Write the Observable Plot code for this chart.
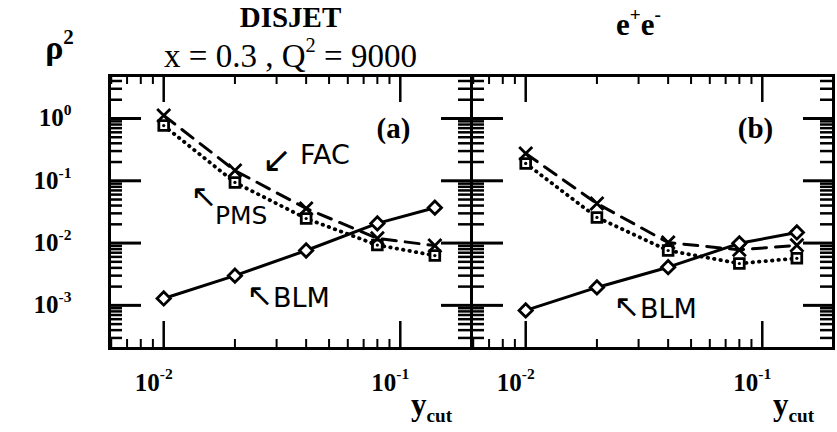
<!DOCTYPE html>
<html><head><meta charset="utf-8">
<script src="https://cdn.jsdelivr.net/npm/d3@7"></script>
<script src="https://cdn.jsdelivr.net/npm/@observablehq/plot@0.6"></script>
<style>html,body{margin:0;padding:0;background:#fff}</style>
</head><body><div id="chart"></div>
<script>
// ---- data ----
const panels = ["a", "b"];
const yCut = [0.01, 0.02, 0.04, 0.08, 0.14];
const facA = [1.12, 0.146, 0.036, 0.0119, 0.0091];
const pmsA = [0.77, 0.094, 0.0248, 0.0093, 0.0063];
const blmA = [0.00129, 0.0030, 0.0076, 0.0207, 0.037];
const facB = [0.274, 0.0432, 0.0102, 0.0078, 0.0092];
const pmsB = [0.19, 0.0258, 0.0076, 0.0047, 0.0057];
const blmB = [0.00083, 0.00194, 0.0041, 0.0099, 0.0148];

const xMajor = [0.01, 0.1];
const xTickLabels = ["10^{-2}", "10^{-1}"];
const xMinor = [0.006, 0.007, 0.008, 0.009, 0.02, 0.03, 0.04, 0.05, 0.06, 0.07, 0.08, 0.09];
const yMajor = [1, 0.1, 0.01, 0.001];
const yTickLabels = ["10^{0}", "10^{-1}", "10^{-2}", "10^{-3}"];
const yMinor = [3e-4,4e-4,5e-4,6e-4,7e-4,8e-4,9e-4,
                2e-3,3e-3,4e-3,5e-3,6e-3,7e-3,8e-3,9e-3,
                0.02,0.03,0.04,0.05,0.06,0.07,0.08,0.09,
                0.2,0.3,0.4,0.5,0.6,0.7,0.8,0.9,
                2,3,4];
const titles = [
  {panel: "a", text: "DISJET"},
  {panel: "a", text: "x = 0.3 , Q^{2} = 9000"},
  {panel: "b", text: "e^{+}e^{-}"}
];
const panelLabels = [{panel: "a", text: "(a)"}, {panel: "b", text: "(b)"}];
const yLabel = "ρ^{2}";
const xLabel = "y_{cut}";

// ---- table ----
const rows = [];
const seriesByPanel = {a: {FAC: facA, PMS: pmsA, BLM: blmA}, b: {FAC: facB, PMS: pmsB, BLM: blmB}};
for (const panel of panels)
  for (const [series, vals] of Object.entries(seriesByPanel[panel]))
    vals.forEach((v, i) => rows.push({panel, series, ycut: yCut[i], rho2: v, i}));
const pick = s => rows.filter(d => d.series === s);
const at = (panel, s, i) => rows.filter(d => d.panel === panel && d.series === s && d.i === i);

// ---- layout ----
const W = 837, H = 432, mL = 109, mR = 4, mT = 75, mB = 84;
const fw = (W - mL - mR) / 2, fh = H - mT - mB;
const serif = '"Liberation Serif","Times New Roman",serif';
const hand = '"DejaVu Sans",sans-serif';
const lw = 3;
const mid = {lineAnchor: "middle", textAnchor: "middle"};

const chart = Plot.plot({
  width: W, height: H,
  marginLeft: mL, marginRight: mR, marginTop: mT, marginBottom: mB,
  style: {fontFamily: serif, background: "white", color: "black", overflow: "visible"},
  fx: {domain: panels, padding: 0, axis: null},
  x: {type: "log", domain: [0.0059, 0.2], axis: null},
  y: {type: "log", domain: [2.03e-4, 4.9], axis: null},
  marks: [
    // inward ticks on all four sides of each panel
    Plot.tickX(xMinor, {x: d => d, insetBottom: fh - 9, strokeWidth: 2}),
    Plot.tickX(xMinor, {x: d => d, insetTop: fh - 9, strokeWidth: 2}),
    Plot.tickX(xMajor, {x: d => d, insetBottom: fh - 27, strokeWidth: 2.5}),
    Plot.tickX(xMajor, {x: d => d, insetTop: fh - 27, strokeWidth: 2.5}),
    Plot.tickY(yMinor, {y: d => d, insetRight: fw - 13, strokeWidth: 2.5}),
    Plot.tickY(yMinor, {y: d => d, insetLeft: fw - 13, strokeWidth: 2.5}),
    Plot.tickY(yMajor, {y: d => d, insetRight: fw - 32, strokeWidth: 3}),
    Plot.tickY(yMajor, {y: d => d, insetLeft: fw - 30, strokeWidth: 3}),
    Plot.frame({strokeWidth: 3}),

    // curves
    Plot.line(pick("BLM"), {fx: "panel", x: "ycut", y: "rho2", strokeWidth: lw}),
    Plot.line(pick("FAC"), {fx: "panel", x: "ycut", y: "rho2", strokeWidth: lw, strokeDasharray: "14,9"}),
    Plot.line(pick("PMS"), {fx: "panel", x: "ycut", y: "rho2", strokeWidth: lw + 0.8, strokeDasharray: "0.5,6", strokeLinecap: "round"}),

    // markers
    Plot.dot(pick("PMS"), {fx: "panel", x: "ycut", y: "rho2", symbol: "square", r: 5.5, fill: "white", stroke: "black", strokeWidth: 2.8}),
    Plot.dot(pick("PMS"), {fx: "panel", x: "ycut", y: "rho2", r: 1.6, fill: "black"}),
    Plot.dot(pick("FAC"), {fx: "panel", x: "ycut", y: "rho2", symbol: "times", r: 6, stroke: "black", strokeWidth: 2.8}),
    Plot.dot(pick("BLM"), {fx: "panel", x: "ycut", y: "rho2", symbol: "diamond2", r: 6, fill: "white", stroke: "black", strokeWidth: 2.8}),

    // tick labels
    Plot.text(yMajor.map((v, i) => ({panel: "a", v, t: yTickLabels[i]})), {fx: "panel", y: "v", text: "t", frameAnchor: "left", dx: -38, textAnchor: "end", lineAnchor: "middle", fontSize: 25, fontWeight: "bold"}),
    Plot.text(xMajor.map((v, i) => ({v, t: xTickLabels[i]})), {x: "v", text: "t", frameAnchor: "bottom", dy: 34, dx: 9, textAnchor: "end", lineAnchor: "middle", fontSize: 25, fontWeight: "bold"}),

    // axis titles
    Plot.text([{panel: "a", t: yLabel}], {fx: "panel", text: "t", frameAnchor: "top-left", dx: -50, dy: -27, ...mid, fontSize: 34, fontWeight: "bold"}),
    Plot.text([xLabel], {text: d => d, frameAnchor: "bottom-right", dx: -40, dy: 57, ...mid, fontSize: 31, fontWeight: "bold"}),

    // panel titles
    Plot.text(titles.slice(0, 1), {fx: "panel", text: "text", frameAnchor: "top", dy: -58, ...mid, fontSize: 29, fontWeight: "bold"}),
    Plot.text(titles.slice(1, 2), {fx: "panel", text: "text", frameAnchor: "top", dy: -19, ...mid, fontSize: 33}),
    Plot.text(titles.slice(2, 3), {fx: "panel", text: "text", frameAnchor: "top", dx: -14, dy: -50, ...mid, fontSize: 31, fontWeight: "bold"}),
    Plot.text(panelLabels, {fx: "panel", text: "text", frameAnchor: "top-right", dx: -78, dy: 53, ...mid, fontSize: 29, fontWeight: "bold"}),

    // hand-written annotations
    Plot.text(at("a", "FAC", 1), {fx: "panel", x: "ycut", y: "rho2", text: () => "↙", dx: 42, dy: -10, ...mid, fontFamily: hand, fontSize: 36}),
    Plot.text(at("a", "FAC", 1), {fx: "panel", x: "ycut", y: "rho2", text: () => "FAC", dx: 65, dy: -15, textAnchor: "start", lineAnchor: "middle", fontFamily: hand, fontSize: 27}),
    Plot.text(at("a", "PMS", 1), {fx: "panel", x: "ycut", y: "rho2", text: () => "↖", dx: -31, dy: 14, ...mid, fontFamily: hand, fontSize: 32}),
    Plot.text(at("a", "PMS", 1), {fx: "panel", x: "ycut", y: "rho2", text: () => "PMS", dx: -20, dy: 34, textAnchor: "start", lineAnchor: "middle", fontFamily: hand, fontSize: 25}),
    Plot.text(at("a", "BLM", 1), {fx: "panel", x: "ycut", y: "rho2", text: () => "↖", dx: 25, dy: 20, ...mid, fontFamily: hand, fontSize: 32}),
    Plot.text(at("a", "BLM", 1), {fx: "panel", x: "ycut", y: "rho2", text: () => "BLM", dx: 38, dy: 23, textAnchor: "start", lineAnchor: "middle", fontFamily: hand, fontSize: 27}),
    Plot.text(at("b", "BLM", 1), {fx: "panel", x: "ycut", y: "rho2", text: () => "↖", dx: 30, dy: 19, ...mid, fontFamily: hand, fontSize: 32}),
    Plot.text(at("b", "BLM", 1), {fx: "panel", x: "ycut", y: "rho2", text: () => "BLM", dx: 43, dy: 22, textAnchor: "start", lineAnchor: "middle", fontFamily: hand, fontSize: 27})
  ]
});

// turn ^{..} and _{..} into real superscript / subscript tspans
const NS = "http://www.w3.org/2000/svg";
chart.querySelectorAll("text").forEach(t => {
  const s = t.textContent;
  if (!/[\^_]\{/.test(s)) return;
  while (t.firstChild) t.removeChild(t.firstChild);
  const re = /([\^_])\{([^}]*)\}/g;
  let last = 0, m, shift = 0;
  const add = (txt, kind) => {
    if (!txt) return;
    const sp = document.createElementNS(NS, "tspan");
    sp.textContent = txt;
    if (kind) {
      sp.setAttribute("font-size", "0.62em");
      const off = kind === "^" ? -0.45 : 0.2; // in base em
      sp.setAttribute("dy", ((off - shift) / 0.62).toFixed(3) + "em");
      shift = off;
    } else if (shift) {
      sp.setAttribute("dy", (-shift).toFixed(3) + "em");
      shift = 0;
    }
    t.appendChild(sp);
  };
  while ((m = re.exec(s))) { add(s.slice(last, m.index)); add(m[2], m[1]); last = re.lastIndex; }
  add(s.slice(last));
});

document.getElementById("chart").appendChild(chart);
</script>
</body></html>
